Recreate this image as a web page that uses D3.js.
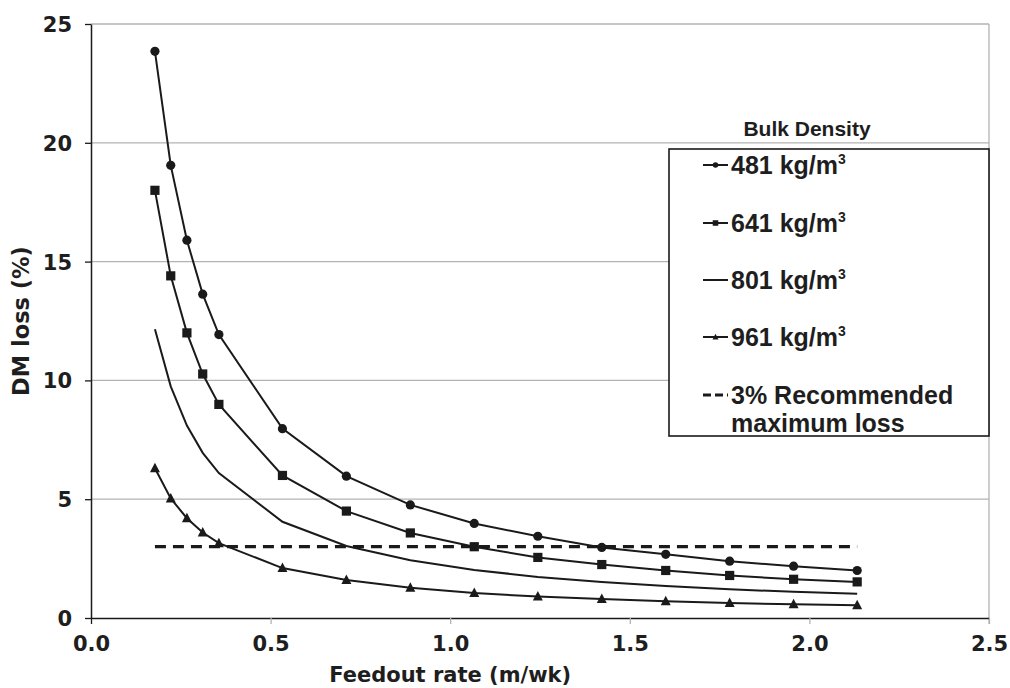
<!DOCTYPE html>
<html>
<head>
<meta charset="utf-8">
<script src="https://cdn.jsdelivr.net/npm/d3@7"></script>
<style>
  html, body { margin: 0; padding: 0; background: #fff; }
  svg { display: block; }
</style>
</head>
<body>
<svg id="chart" width="1010" height="688"></svg>
<script>
// ---- data ----
const feedoutRates = [0.178, 0.222, 0.267, 0.311, 0.356, 0.533, 0.711, 0.889, 1.067, 1.244, 1.422, 1.600, 1.778, 1.956, 2.133];
const loss481 = [23.85, 19.05, 15.9, 13.63, 11.93, 7.97, 5.97, 4.76, 3.98, 3.44, 2.97, 2.68, 2.39, 2.18, 2.0];
const loss641 = [18.0, 14.4, 12.0, 10.27, 8.99, 6.0, 4.5, 3.58, 3.0, 2.55, 2.25, 2.0, 1.79, 1.63, 1.52];
const loss801 = [12.15, 9.75, 8.1, 6.95, 6.1, 4.05, 3.03, 2.43, 2.02, 1.73, 1.52, 1.35, 1.21, 1.1, 1.02];
const loss961 = [6.3, 5.03, 4.2, 3.6, 3.15, 2.1, 1.6, 1.27, 1.05, 0.9, 0.8, 0.7, 0.63, 0.58, 0.54];
const recommendedMax = 3;
const recommendedRange = [0.178, 2.133];
const seriesNames = ["481 kg/m", "641 kg/m", "801 kg/m", "961 kg/m"];
const seriesMarkers = ["circle", "square", "none", "triangle"];
const xTicks = [0.0, 0.5, 1.0, 1.5, 2.0, 2.5];
const yTicks = [0, 5, 10, 15, 20, 25];

const series = [loss481, loss641, loss801, loss961].map((vals, i) => ({
  name: seriesNames[i], marker: seriesMarkers[i],
  points: vals.map((v, j) => ({ x: feedoutRates[j], y: v }))
}));

// ---- layout ----
const svg = d3.select("#chart");
const L = 91, R = 989, T = 24, B = 618;
const x = d3.scaleLinear().domain([0, 2.5]).range([L, R]);
const y = d3.scaleLinear().domain([0, 25]).range([B, T]);
const ink = "#1a1a1a";
const txt = "#1e1e1e";
const tickFont = "'DejaVu Sans', Verdana, sans-serif";
const legFont = "'Liberation Sans', Arial, sans-serif";

// gridlines
svg.append("g").selectAll("line").data(yTicks.filter(d => d > 0)).join("line")
  .attr("x1", L).attr("x2", R).attr("y1", d => y(d)).attr("y2", d => y(d))
  .attr("stroke", "#b3b3b3").attr("stroke-width", 1.3);
// right border
svg.append("line").attr("x1", R).attr("x2", R).attr("y1", T).attr("y2", B + 6)
  .attr("stroke", "#b3b3b3").attr("stroke-width", 1.3);

// y axis
const yAxis = svg.append("g").attr("transform", `translate(${L},0)`)
  .call(d3.axisLeft(y).tickValues(yTicks).tickSize(6).tickSizeOuter(0).tickPadding(13));
yAxis.select(".domain").attr("stroke", ink).attr("stroke-width", 1.5);
yAxis.selectAll(".tick line").attr("stroke", ink).attr("stroke-width", 1.3);
yAxis.selectAll(".tick text").attr("font-family", tickFont).attr("font-weight", "bold")
  .attr("font-size", 21).attr("fill", txt).attr("dy", "0.36em");

// x axis
const xAxis = svg.append("g").attr("transform", `translate(0,${B})`)
  .call(d3.axisBottom(x).tickValues(xTicks).tickFormat(d3.format(".1f")).tickSize(6).tickSizeOuter(0).tickPadding(12));
xAxis.select(".domain").attr("stroke", ink).attr("stroke-width", 1.5);
xAxis.selectAll(".tick line").attr("stroke", (d, i) => i === 0 ? ink : "#b3b3b3").attr("stroke-width", 1.3);
xAxis.selectAll(".tick text").attr("font-family", tickFont).attr("font-weight", "bold")
  .attr("font-size", 21).attr("fill", txt);

// axis titles
svg.append("text").attr("x", x(1.0)).attr("y", 682).attr("text-anchor", "middle")
  .attr("font-family", tickFont).attr("font-weight", "bold").attr("font-size", 21).attr("fill", txt)
  .text("Feedout rate (m/wk)");
svg.append("text").attr("transform", `translate(29,${(T + B) / 2}) rotate(-90)`).attr("text-anchor", "middle")
  .attr("font-family", tickFont).attr("font-weight", "bold").attr("font-size", 22.5).attr("fill", txt)
  .text("DM loss (%)");

// recommended max line
svg.append("line").attr("x1", x(recommendedRange[0])).attr("x2", x(recommendedRange[1]))
  .attr("y1", y(recommendedMax)).attr("y2", y(recommendedMax))
  .attr("stroke", ink).attr("stroke-width", 3.2).attr("stroke-dasharray", "11,7");

// series lines
const line = d3.line().x(d => x(d.x)).y(d => y(d.y));
svg.append("g").selectAll("path").data(series).join("path")
  .attr("d", d => line(d.points)).attr("fill", "none")
  .attr("stroke", ink).attr("stroke-width", 2);

// markers
function drawMarker(g, type, cx, cy, s) {
  if (type === "circle") g.append("circle").attr("cx", cx).attr("cy", cy).attr("r", 4.6 * s).attr("fill", ink);
  else if (type === "square") g.append("rect").attr("x", cx - 4.6 * s).attr("y", cy - 4.6 * s)
    .attr("width", 9.2 * s).attr("height", 9.2 * s).attr("fill", ink);
  else if (type === "triangle") g.append("path")
    .attr("d", `M${cx},${cy - 5.5 * s}L${cx + 5 * s},${cy + 4 * s}L${cx - 5 * s},${cy + 4 * s}Z`).attr("fill", ink);
}
const mg = svg.append("g");
series.forEach(s => s.points.forEach(p => drawMarker(mg, s.marker, x(p.x), y(p.y), 1)));

// legend
svg.append("text").attr("x", 807).attr("y", 136).attr("text-anchor", "middle")
  .attr("font-family", legFont).attr("font-weight", "bold").attr("font-size", 21).attr("fill", txt)
  .text("Bulk Density");
svg.append("rect").attr("x", 669).attr("y", 149).attr("width", 320).attr("height", 287)
  .attr("fill", "#fff").attr("stroke", ink).attr("stroke-width", 1.6);
const rowY = [165, 223, 280, 337, 395];
const lg = svg.append("g");
series.forEach((s, i) => {
  const cy = rowY[i];
  lg.append("line").attr("x1", 703).attr("x2", 728).attr("y1", cy).attr("y2", cy)
    .attr("stroke", ink).attr("stroke-width", 2);
  drawMarker(lg, s.marker, 715.5, cy, 0.6);
  const t = lg.append("text").attr("x", 731).attr("y", cy + 9)
    .attr("font-family", legFont).attr("font-weight", "bold").attr("font-size", 25).attr("fill", txt);
  t.append("tspan").text(s.name);
  t.append("tspan").attr("font-size", 14).attr("dy", -10).text("3");
});
lg.append("line").attr("x1", 703).attr("x2", 728).attr("y1", rowY[4]).attr("y2", rowY[4])
  .attr("stroke", ink).attr("stroke-width", 3).attr("stroke-dasharray", "8,4");
lg.append("text").attr("x", 731).attr("y", rowY[4] + 9)
  .attr("font-family", legFont).attr("font-weight", "bold").attr("font-size", 25).attr("fill", txt)
  .text("3% Recommended");
lg.append("text").attr("x", 731).attr("y", 432)
  .attr("font-family", legFont).attr("font-weight", "bold").attr("font-size", 25).attr("fill", txt)
  .text("maximum loss");
</script>
</body>
</html>
